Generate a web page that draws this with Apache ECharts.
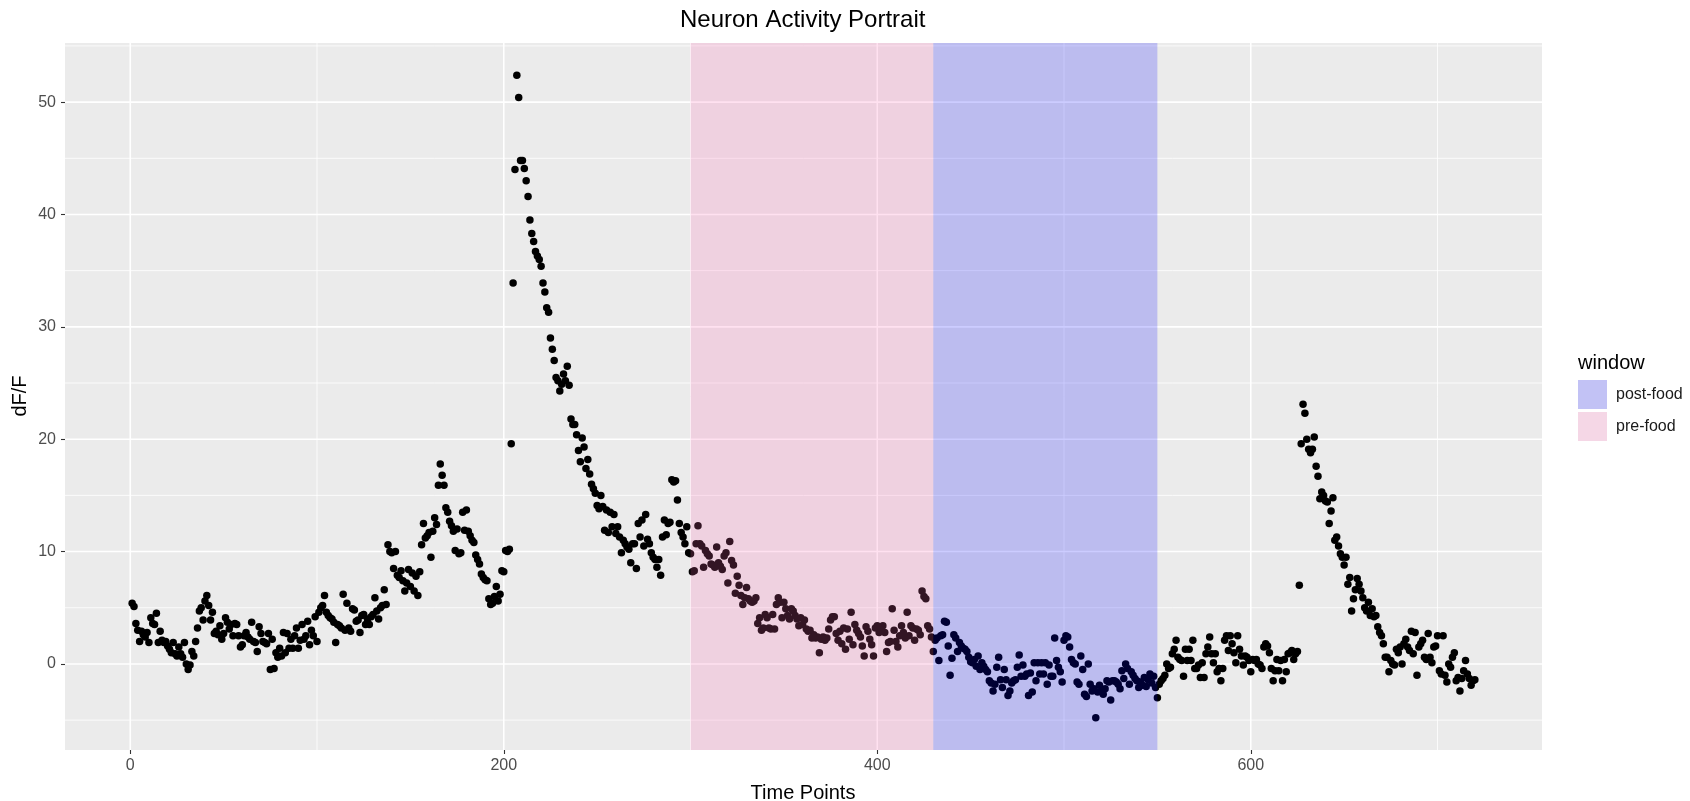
<!DOCTYPE html>
<html>
<head>
<meta charset="utf-8">
<script src="https://cdn.jsdelivr.net/npm/echarts@6/dist/echarts.min.js"></script>
<style>
  html, body { margin: 0; padding: 0; background: #ffffff; }
  #chart { width: 1690px; height: 801px; }
</style>
</head>
<body>
<div id="chart"></div>
<script>
// dF/F trace, one value per time point (t = 1, 2, 3, ...)
const dff = [
  5.4, 5.1, 3.6, 3.0, 2.0, 2.9, 2.6, 2.4, 2.8, 1.9,
  4.1, 3.6, 3.5, 4.5, 1.9, 2.9, 2.1, 1.9, 2.0, 1.6,
  1.3, 1.0, 1.9, 0.9, 0.7, 1.5, 0.9, 0.6, 1.9, 0.0,
  -0.5, -0.1, 1.1, 0.7, 2.0, 3.2, 4.7, 5.0, 3.9, 5.6,
  6.1, 5.2, 3.9, 4.6, 2.7, 2.9, 2.6, 3.4, 2.2, 2.7,
  4.1, 3.7, 3.1, 3.5, 2.5, 3.6, 3.5, 2.5, 1.5, 1.7,
  2.5, 2.8, 2.4, 2.2, 3.7, 2.0, 1.9, 1.1, 3.3, 2.7,
  2.0, 1.9, 1.8, 2.7, -0.5, 2.2, -0.4, 1.0, 0.6, 1.4,
  0.7, 2.8, 1.0, 2.7, 1.4, 2.2, 1.4, 2.5, 3.2, 1.4,
  2.1, 3.5, 2.2, 2.5, 3.8, 1.7, 3.0, 2.5, 4.2, 2.0,
  4.6, 5.0, 5.2, 6.1, 4.6, 4.3, 4.1, 4.0, 3.7, 1.9,
  3.5, 3.4, 3.2, 6.2, 3.0, 5.4, 3.2, 2.9, 4.9, 4.8,
  3.8, 3.9, 2.8, 4.3, 4.4, 3.5, 4.0, 3.5, 4.2, 4.4,
  5.9, 4.7, 4.0, 5.0, 5.2, 6.6, 5.3, 10.6, 10.0, 9.9,
  8.5, 10.0, 7.9, 7.7, 8.3, 7.4, 6.5, 7.2, 8.4, 6.9,
  8.1, 6.5, 7.8, 6.1, 8.2, 10.6, 12.5, 11.2, 11.4, 11.7,
  9.5, 11.8, 13.0, 12.4, 15.9, 17.8, 16.8, 15.9, 13.9, 13.5,
  12.7, 12.3, 11.8, 10.1, 12.0, 9.8, 9.9, 13.5, 11.9, 13.7,
  11.8, 11.4, 11.0, 10.8, 9.7, 9.3, 8.9, 8.0, 7.7, 7.5,
  7.4, 5.8, 5.3, 5.4, 6.0, 6.9, 5.6, 6.2, 8.3, 8.2,
  10.1, 10.0, 10.2, 19.6, 33.9, 44.0, 52.4, 50.4, 44.8, 44.8,
  44.1, 43.0, 41.6, 39.5, 38.3, 37.6, 36.7, 36.3, 36.0, 35.4,
  33.9, 33.1, 31.7, 31.3, 29.0, 28.0, 27.0, 25.5, 25.2, 24.3,
  24.9, 25.8, 25.2, 26.5, 24.8, 21.8, 21.3, 21.3, 20.4, 19.0,
  18.0, 20.1, 19.3, 17.4, 18.2, 16.9, 16.0, 15.6, 15.2, 14.1,
  13.8, 15.0, 14.0, 11.9, 13.7, 11.7, 13.5, 12.2, 13.3, 11.6,
  12.2, 11.3, 9.9, 11.0, 10.7, 10.4, 10.2, 9.0, 10.7, 10.7,
  8.5, 12.5, 11.3, 12.8, 10.5, 13.3, 11.1, 10.7, 9.9, 9.5,
  9.3, 8.6, 9.3, 7.9, 11.3, 12.8, 11.5, 12.5, 12.6, 16.4,
  16.2, 16.3, 14.6, 12.5, 11.7, 11.3, 10.7, 12.2, 9.9, 9.8,
  8.2, 8.3, 10.7, 12.3, 10.7, 10.5, 8.6, 10.1, 9.8, 9.6,
  8.9, 8.8, 8.6, 10.4, 9.0, 8.7, 8.4, 9.6, 9.9, 7.2,
  10.9, 9.2, 8.8, 6.3, 7.8, 7.0, 6.1, 5.3, 5.9, 6.8,
  5.8, 5.6, 5.5, 5.6, 5.9, 3.6, 4.1, 3.0, 3.2, 4.4,
  4.1, 3.2, 3.1, 4.4, 3.1, 5.3, 5.9, 5.5, 4.1, 5.5,
  4.9, 4.3, 4.0, 4.9, 4.7, 4.3, 4.0, 3.4, 4.1, 3.5,
  3.9, 3.1, 2.9, 3.0, 2.3, 2.6, 2.3, 2.4, 1.0, 2.2,
  2.4, 2.1, 2.3, 3.1, 3.9, 4.2, 4.2, 2.7, 2.1, 2.9,
  1.8, 3.2, 1.3, 3.1, 2.2, 4.6, 1.7, 3.5, 3.0, 2.7,
  2.4, 1.6, 0.7, 3.3, 2.9, 2.2, 1.7, 0.7, 3.2, 3.4,
  2.8, 3.2, 3.4, 2.8, 1.1, 1.9, 2.0, 4.9, 3.0, 2.0,
  1.5, 2.5, 3.4, 2.8, 2.3, 4.6, 2.5, 3.4, 3.2, 2.1,
  3.1, 3.0, 2.6, 6.5, 6.0, 5.8, 3.4, 3.1, 2.4, 1.1,
  2.1, 2.3, 0.3, 2.5, 2.6, 3.8, 3.7, 1.6, -1.0, 0.5,
  2.6, 2.3, 1.1, 1.9, 1.6, 1.4, 1.3, 1.1, 0.6, 0.2,
  0.1, 0.4, -0.2, 0.7, -0.5, 0.1, -0.2, -0.5, -0.7, -1.5,
  -1.7, -2.4, -1.8, -0.3, 0.6, -1.4, -2.1, -0.5, -1.4, -2.8,
  -2.4, -1.7, -1.5, -1.4, -0.3, 0.8, -1.1, -0.1, -1.1, -0.9,
  -2.8, -0.8, -2.5, 0.1, -1.5, 0.1, -0.9, 0.1, -0.9, 0.1,
  -1.8, -0.1, -1.1, -1.1, 2.3, 0.3, -0.3, -0.7, -1.6, 2.1,
  2.5, 2.4, 1.5, 0.4, 0.1, 0.0, -1.6, -1.8, 0.7, -0.5,
  -2.7, -2.9, 0.0, -1.8, -2.4, -2.2, -4.8, -2.5, -1.9, -2.4,
  -2.7, -2.2, -1.5, -1.6, -3.2, -1.5, -1.5, -1.6, -1.8, -2.2,
  -0.6, -1.3, 0.0, -0.4, -1.8, -0.7, -1.0, -1.3, -1.5, -2.1,
  -1.6, -1.9, -1.2, -2.0, -1.4, -0.9, -1.7, -1.1, -2.1, -3.0,
  -1.8, -1.5, -1.3, -1.0, 0.0, -0.4, -0.3, 0.9, 1.3, 2.1,
  0.6, 0.4, 0.3, -1.1, 1.3, 0.3, 1.3, 0.3, 2.1, -0.4,
  -0.4, -0.1, -1.2, 0.1, -1.2, 0.9, 1.5, 2.4, 0.9, 0.1,
  0.9, -0.7, -0.4, -1.5, -0.4, 2.1, 2.5, 1.2, 2.5, 1.8,
  1.0, 0.1, 2.5, 1.3, 0.7, -0.1, 0.7, 0.6, 0.3, -0.7,
  0.4, 0.3, 0.4, 0.0, -0.1, -0.4, 1.5, 1.8, 1.6, 1.0,
  -0.4, -1.5, -0.6, 0.4, -0.6, 0.3, -1.5, 0.4, -0.7, 0.9,
  1.0, 1.2, 0.4, 0.9, 1.1, 7.0, 19.6, 23.1, 22.3, 20.0,
  19.1, 18.8, 19.1, 20.2, 17.6, 16.7, 14.7, 15.3, 15.0, 14.5,
  14.4, 12.5, 13.6, 14.8, 11.0, 11.3, 10.5, 9.8, 9.5, 8.8,
  9.5, 7.1, 7.7, 4.7, 5.8, 6.6, 7.6, 7.1, 6.5, 5.9,
  5.0, 4.7, 5.5, 4.3, 4.9, 4.2, 4.3, 3.3, 2.8, 2.5,
  1.8, 0.6, 0.6, -0.7, 0.3, 0.0, -0.1, 1.3, 1.0, 1.5,
  0.0, 1.8, 2.2, 1.5, 1.2, 2.9, 0.9, 2.8, -1.0, 1.5,
  1.8, 2.1, 0.6, 0.4, 2.7, 0.6, 0.1, 1.5, 1.6, 2.5,
  -0.6, -0.9, 2.5, -1.0, -1.6, 0.0, -0.3, 0.6, 1.0, -1.5,
  -1.2, -2.4, -1.3, -0.6, 0.3, -0.9, -1.3, -1.9, -1.5, -1.4
];

// Feeding windows (time-point ranges)
const windowNames = ['pre-food', 'post-food'];
const windowStart = [300, 430];
const windowEnd = [430, 550];

// Axis breaks
const xMajor = [0, 200, 400, 600];
const xMinor = [100, 300, 500, 700];
const yMajor = [0, 10, 20, 30, 40, 50];
const yMinor = [-5, 5, 15, 25, 35, 45, 55];

const FONT = '"Liberation Sans", Arial, sans-serif';
const windowFill = ['rgba(255,105,180,0.2)', 'rgba(0,0,255,0.2)'];
// legend keys: same translucent fills laid over the light key background
const windowKey = ['#F5D7E6', '#C2C2F5'];

// 5% padding on each side of the data range
const times = dff.map((v, i) => i + 1);
const tMin = Math.min(...times), tMax = Math.max(...times);
const vMin = Math.min(...dff), vMax = Math.max(...dff);
const xPad = (tMax - tMin) * 0.05, yPad = (vMax - vMin) * 0.05;

const chart = echarts.init(document.getElementById('chart'), null, { renderer: 'canvas' });

function vLines(values, width, z) {
  return {
    type: 'custom', silent: true, z: z, clip: true,
    data: values.map(v => [v, 0]),
    encode: { x: 0, y: 1 },
    renderItem(params, api) {
      const x = api.coord([api.value(0), 0])[0];
      const cs = params.coordSys;
      return { type: 'line', shape: { x1: x, y1: cs.y, x2: x, y2: cs.y + cs.height },
               style: { stroke: '#FFFFFF', lineWidth: width } };
    }
  };
}
function hLines(values, width, z) {
  return {
    type: 'custom', silent: true, z: z, clip: true,
    data: values.map(v => [0, v]),
    encode: { x: 0, y: 1 },
    renderItem(params, api) {
      const y = api.coord([0, api.value(1)])[1];
      const cs = params.coordSys;
      return { type: 'line', shape: { x1: cs.x, y1: y, x2: cs.x + cs.width, y2: y },
               style: { stroke: '#FFFFFF', lineWidth: width } };
    }
  };
}

const windowSeries = windowNames.map((name, i) => ({
  type: 'custom', name: name, silent: true, z: 5,
  itemStyle: { color: windowKey[i] },
  data: [[windowStart[i], windowEnd[i], 0]],
  encode: { x: [0, 1], y: 2 },
  renderItem(params, api) {
    const a = api.coord([api.value(0), 0]);
    const b = api.coord([api.value(1), 0]);
    const cs = params.coordSys;
    return { type: 'rect', shape: { x: a[0], y: cs.y, width: b[0] - a[0], height: cs.height },
             style: { fill: windowFill[i] } };
  }
}));

chart.setOption({
  animation: false,
  grid: { left: 65, right: 148, top: 43, bottom: 51, show: true,
          backgroundColor: '#EBEBEB', borderWidth: 0 },
  xAxis: {
    type: 'value', min: tMin - xPad, max: tMax + xPad,
    axisLine: { show: false, onZero: false },
    splitLine: { show: false },
    axisTick: { show: true, length: 4, customValues: xMajor,
                lineStyle: { color: '#333333', width: 1.1 } },
    axisLabel: { customValues: xMajor, color: '#4D4D4D', fontSize: 16,
                 fontFamily: FONT, margin: 8 }
  },
  yAxis: {
    type: 'value', min: vMin - yPad, max: vMax + yPad,
    axisLine: { show: false, onZero: false },
    splitLine: { show: false },
    axisTick: { show: true, length: 4, customValues: yMajor,
                lineStyle: { color: '#333333', width: 1.1 } },
    axisLabel: { customValues: yMajor, color: '#4D4D4D', fontSize: 16,
                 fontFamily: FONT, margin: 9 }
  },
  legend: {
    orient: 'vertical', left: 1573, top: 375,
    itemWidth: 29, itemHeight: 29, itemGap: 3,
    icon: 'rect', selectedMode: false,
    data: [
      { name: 'post-food', itemStyle: { color: windowKey[1] } },
      { name: 'pre-food', itemStyle: { color: windowKey[0] } }
    ],
    textStyle: { fontSize: 16, color: '#1A1A1A', fontFamily: FONT, padding: [0, 0, 0, 4] }
  },
  graphic: [
    { type: 'text', left: 803 - 123, top: 8,
      style: { text: 'Neuron Activity Portrait', fontSize: 24, fontFamily: FONT, fill: '#000000' } },
    { type: 'text', x: 803, y: 793,
      style: { text: 'Time Points', fontSize: 20, fontFamily: FONT, fill: '#000000',
               align: 'center', verticalAlign: 'middle' } },
    { type: 'text', x: 20, y: 396, rotation: Math.PI / 2,
      style: { text: 'dF/F', fontSize: 20, fontFamily: FONT, fill: '#000000',
               align: 'center', verticalAlign: 'middle' } },
    { type: 'text', x: 1578, y: 363,
      style: { text: 'window', fontSize: 20, fontFamily: FONT, fill: '#000000',
               align: 'left', verticalAlign: 'middle' } }
  ],
  series: [
    vLines(xMinor, 0.8, 1),
    hLines(yMinor, 0.8, 1),
    vLines(xMajor, 1.6, 1),
    hLines(yMajor, 1.6, 1),
    {
      type: 'scatter', name: 'dF/F', z: 3, silent: true,
      symbolSize: 7.5,
      itemStyle: { color: '#000000', opacity: 1 },
      data: dff.map((v, i) => [times[i], v])
    },
    ...windowSeries
  ]
});
</script>
</body>
</html>
